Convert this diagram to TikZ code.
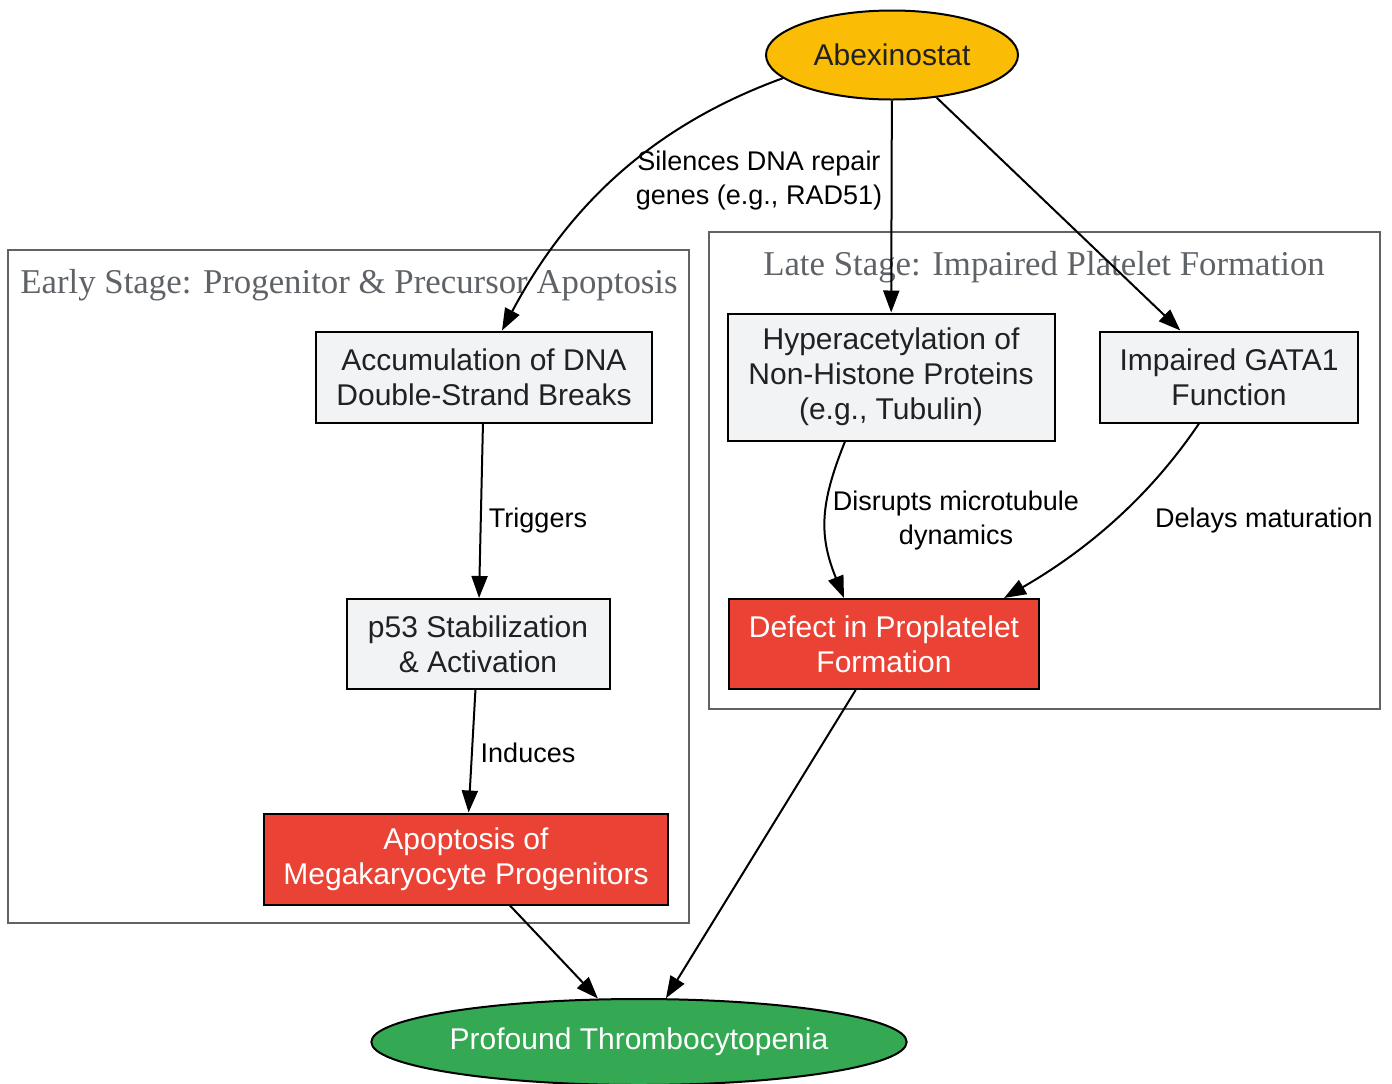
\documentclass[tikz,border=0pt]{standalone}
\usepackage{fontspec}
\setmainfont{Liberation Sans}
\newfontfamily\clusterfont{Liberation Serif}
\usepackage{xcolor}
\usepackage{tikz}
\usetikzlibrary{arrows.meta}
\usetikzlibrary{shapes.geometric}

\definecolor{drugyellow}{HTML}{FBBC05}
\definecolor{harmred}{HTML}{EA4335}
\definecolor{outcomegreen}{HTML}{34A853}
\definecolor{stepgray}{HTML}{F1F3F4}
\definecolor{inkgray}{HTML}{202124}
\definecolor{clustergray}{HTML}{5F6368}

\tikzset{
  procbox/.style={rectangle,draw=black,line width=1pt,fill=stepgray,text=inkgray,
    align=center,inner sep=0pt,font=\fontsize{15}{17.5}\selectfont},
  harmbox/.style={procbox,fill=harmred,text=white},
  oval/.style={ellipse,draw=black,line width=1pt,inner sep=0pt,
    font=\fontsize{15}{17.5}\selectfont},
  elabel/.style={align=center,inner sep=0pt,text=black,font=\fontsize{13.5}{17}\selectfont},
  clusterbox/.style={draw=clustergray,line width=1pt},
  clusterlabel/.style={text=clustergray,inner sep=0pt,font=\clusterfont\fontsize{17.4}{20}\selectfont}
}

\begin{document}
\begin{tikzpicture}[x=0.5pt,y=-0.5pt]
	          \useasboundingbox (0,0) rectangle (1392,1083);
	          % stage frames
	          \draw[clusterbox] (8,250) rectangle (689,923);
	          \draw[clusterbox] (709,232) rectangle (1380,709);
	          \node[clusterlabel] (earlylbl) at (349,285) {Early Stage: Progenitor \& Precursor Apoptosis};
	          \node[clusterlabel] (latelbl) at (1044,267) {Late Stage: Impaired Platelet Formation};
	          % nodes
	          \node[oval,fill=drugyellow,text=inkgray,minimum width=126pt,minimum height=44.5pt] (abex) at (892,55) {Abexinostat};
	          \node[procbox,minimum width=168pt,minimum height=45.5pt] (dsb) at (484,377) {Accumulation of DNA\\Double-Strand Breaks};
	          \node[procbox,minimum width=131.5pt,minimum height=45pt] (ptf) at (478,644) {p53 Stabilization\\\& Activation};
	          \node[harmbox,minimum width=202pt,minimum height=45.5pt] (apop) at (466,859) {Apoptosis of\\Megakaryocyte Progenitors};
	          \node[procbox,minimum width=163.5pt,minimum height=63.5pt] (hyper) at (891,377) {Hyperacetylation of\\Non-Histone Proteins\\(e.g., Tubulin)};
	          \node[procbox,minimum width=129pt,minimum height=45.5pt] (gata) at (1229,377) {Impaired GATA1\\Function};
	          \node[harmbox,minimum width=155pt,minimum height=45pt] (defect) at (884,644) {Defect in Proplatelet\\Formation};
	          \node[oval,fill=outcomegreen,text=white,minimum width=267pt,minimum height=43pt] (thrombo) at (639,1042) {Profound Thrombocytopenia};
	          % edge labels
	          \node[elabel] (silences) at (759,181) {Silences DNA repair\\genes (e.g., RAD51)};
	          \node[elabel] (triggers) at (538,521) {Triggers};
	          \node[elabel] (induces) at (528,753) {Induces};
	          \node[elabel] (disrupts) at (956,521) {Disrupts microtubule\\dynamics};
	          \node[elabel] (delays) at (1264,521) {Delays maturation};
	          % edges
	          \begin{scope}[every edge/.style={draw=black,line width=1pt,-{Triangle[length=11pt,width=8pt]}}]
	            \path (abex.192) edge[out=200,in=62,looseness=0.95] ([xshift=9pt]dsb.north);
	            \path (abex) edge (hyper);
	            \path (abex) edge (gata);
	            \path (dsb) edge (ptf);
	            \path (ptf) edge (apop);
	            \path ([xshift=-23pt]hyper.south) edge[out=248,in=112,looseness=1.1] ([xshift=-20pt]defect.north);
	            \path ([xshift=-15pt]gata.south) edge[out=236,in=30,looseness=0.9] ([xshift=60pt]defect.north);
	            \path (apop) edge (thrombo);
	            \path (defect) edge (thrombo);
	          \end{scope}
	        \end{tikzpicture}
\end{document}
